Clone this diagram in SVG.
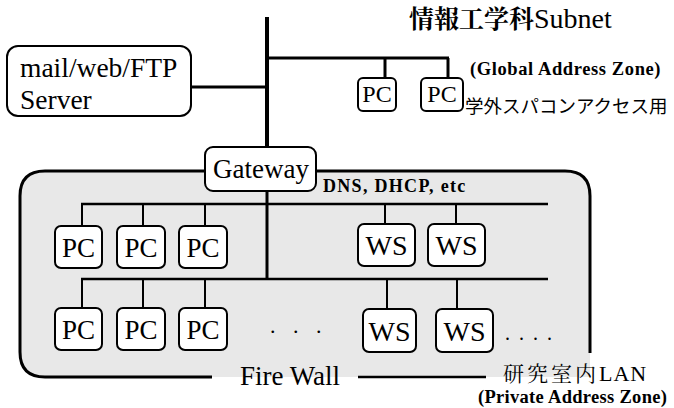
<svg xmlns="http://www.w3.org/2000/svg" width="674" height="408" viewBox="0 0 674 408">
<rect width="674" height="408" fill="#fff"/>
<g id="firewall">
<path d="M45,171 H565 Q590,171 590,196 V353 H590 V377 H45 Q20,377 20,352 V196 Q20,171 45,171 Z" fill="#e8e8e8"/>
<path d="M212,377 H45 Q20,377 20,352 V196 Q20,171 45,171 H565 Q590,171 590,196 V353" stroke="#000" fill="none" stroke-width="3"/>
<line x1="358" y1="377" x2="486" y2="377" stroke="#000" stroke-width="2.5"/>
<text x="240" y="385" style="font-family:'Liberation Serif','Times New Roman',serif" font-size="27">Fire Wall</text>
<text x="503" y="381" style="font-family:'Noto Serif CJK JP','Noto Sans CJK JP',serif" font-size="21" letter-spacing="3">研究室内<tspan style="font-family:'Liberation Serif','Times New Roman',serif" font-size="22" letter-spacing="1">LAN</tspan></text>
<text x="478" y="403" style="font-family:'Liberation Serif','Times New Roman',serif" font-weight="bold" font-size="18.5" letter-spacing="0.3">(Private Address Zone)</text>
</g>
<g id="connectors" stroke="#000" fill="none">
<line x1="267" y1="17" x2="267" y2="149" stroke-width="4"/>
<line x1="267" y1="191" x2="267" y2="280" stroke-width="3"/>
<line x1="267" y1="58" x2="449" y2="58" stroke-width="3"/>
<line x1="385" y1="58" x2="385" y2="79" stroke-width="3"/>
<line x1="448" y1="58" x2="448" y2="79" stroke-width="3"/>
<line x1="191" y1="87" x2="267" y2="87" stroke-width="3"/>
<line x1="81" y1="204" x2="548" y2="204" stroke-width="2.5"/>
<line x1="81" y1="279" x2="548" y2="279" stroke-width="2.5"/>
<g stroke-width="2">
<line x1="82" y1="204" x2="82" y2="226"/>
<line x1="143" y1="204" x2="143" y2="226"/>
<line x1="205" y1="204" x2="205" y2="226"/>
<line x1="385" y1="204" x2="385" y2="224"/>
<line x1="456" y1="204" x2="456" y2="224"/>
<line x1="82" y1="279" x2="82" y2="308"/>
<line x1="143" y1="279" x2="143" y2="308"/>
<line x1="205" y1="279" x2="205" y2="308"/>
<line x1="387" y1="279" x2="387" y2="309"/>
<line x1="457" y1="279" x2="457" y2="309"/>
</g>
</g>
<g id="server">
<rect x="7" y="46" width="184" height="70" rx="11" fill="#fff" stroke="#000" stroke-width="2"/>
<text x="20" y="77" style="font-family:'Liberation Serif','Times New Roman',serif" font-size="27.5">mail/web/FTP</text>
<text x="20" y="109" style="font-family:'Liberation Serif','Times New Roman',serif" font-size="27.5">Server</text>
</g>
<g id="gateway">
<rect x="205" y="147" width="111" height="44" rx="8" fill="#fff" stroke="#000" stroke-width="2"/>
<text x="261" y="178" text-anchor="middle" style="font-family:'Liberation Serif','Times New Roman',serif" font-size="27">Gateway</text>
</g>
<g id="subnet-label">
<text x="409" y="28" style="font-family:'Noto Serif CJK JP','Noto Sans CJK JP',serif" font-size="25" font-weight="bold">情報工学科<tspan style="font-family:'Liberation Serif','Times New Roman',serif" font-weight="normal" font-size="28">Subnet</tspan></text>
<text x="470" y="75" style="font-family:'Liberation Serif','Times New Roman',serif" font-weight="bold" font-size="18.5" letter-spacing="0.6">(Global Address Zone)</text>
<text x="465" y="113" style="font-family:'Noto Sans CJK JP',sans-serif" font-size="18.5">学外スパコンアクセス用</text>
</g>
<g id="pc-g1"><rect x="358" y="78" width="38" height="33" rx="5" fill="#fff" stroke="#000" stroke-width="2"/><text x="377" y="102" text-anchor="middle" style="font-family:'Liberation Serif','Times New Roman',serif" font-size="24">PC</text></g>
<g id="pc-g2"><rect x="421" y="78" width="42" height="33" rx="5" fill="#fff" stroke="#000" stroke-width="2"/><text x="442" y="102" text-anchor="middle" style="font-family:'Liberation Serif','Times New Roman',serif" font-size="24">PC</text></g>
<g id="dns-label"><text x="323" y="192" style="font-family:'Liberation Serif','Times New Roman',serif" font-weight="bold" font-size="18" letter-spacing="1.3">DNS, DHCP, etc</text></g>
<g id="pc-r1a"><rect x="55" y="226" width="47" height="42" rx="6" fill="#fff" stroke="#000" stroke-width="2"/><text x="78.5" y="257" text-anchor="middle" style="font-family:'Liberation Serif','Times New Roman',serif" font-size="27">PC</text></g>
<g id="pc-r1b"><rect x="117" y="226" width="48" height="42" rx="6" fill="#fff" stroke="#000" stroke-width="2"/><text x="141" y="257" text-anchor="middle" style="font-family:'Liberation Serif','Times New Roman',serif" font-size="27">PC</text></g>
<g id="pc-r1c"><rect x="179" y="226" width="48" height="42" rx="6" fill="#fff" stroke="#000" stroke-width="2"/><text x="203" y="257" text-anchor="middle" style="font-family:'Liberation Serif','Times New Roman',serif" font-size="27">PC</text></g>
<g id="ws-r1a"><rect x="358" y="224" width="57" height="42" rx="6" fill="#fff" stroke="#000" stroke-width="2"/><text x="386.5" y="255" text-anchor="middle" style="font-family:'Liberation Serif','Times New Roman',serif" font-size="28">WS</text></g>
<g id="ws-r1b"><rect x="428" y="224" width="57" height="42" rx="6" fill="#fff" stroke="#000" stroke-width="2"/><text x="456.5" y="255" text-anchor="middle" style="font-family:'Liberation Serif','Times New Roman',serif" font-size="28">WS</text></g>
<g id="pc-r2a"><rect x="55" y="308" width="47" height="42" rx="6" fill="#fff" stroke="#000" stroke-width="2"/><text x="78.5" y="339" text-anchor="middle" style="font-family:'Liberation Serif','Times New Roman',serif" font-size="27">PC</text></g>
<g id="pc-r2b"><rect x="117" y="308" width="48" height="42" rx="6" fill="#fff" stroke="#000" stroke-width="2"/><text x="141" y="339" text-anchor="middle" style="font-family:'Liberation Serif','Times New Roman',serif" font-size="27">PC</text></g>
<g id="pc-r2c"><rect x="179" y="308" width="48" height="42" rx="6" fill="#fff" stroke="#000" stroke-width="2"/><text x="203" y="339" text-anchor="middle" style="font-family:'Liberation Serif','Times New Roman',serif" font-size="27">PC</text></g>
<g id="ws-r2a"><rect x="363" y="309" width="53" height="43" rx="6" fill="#fff" stroke="#000" stroke-width="2"/><text x="389.5" y="341" text-anchor="middle" style="font-family:'Liberation Serif','Times New Roman',serif" font-size="28">WS</text></g>
<g id="ws-r2b"><rect x="436" y="309" width="57" height="43" rx="6" fill="#fff" stroke="#000" stroke-width="2"/><text x="464.5" y="341" text-anchor="middle" style="font-family:'Liberation Serif','Times New Roman',serif" font-size="28">WS</text></g>
<g id="ellipses">
<text x="270" y="333" style="font-family:'Liberation Serif','Times New Roman',serif" font-size="22" letter-spacing="6">. . .</text>
<text x="505" y="340" style="font-family:'Liberation Serif','Times New Roman',serif" font-size="20" letter-spacing="2">. . . .</text>
</g>
</svg>
